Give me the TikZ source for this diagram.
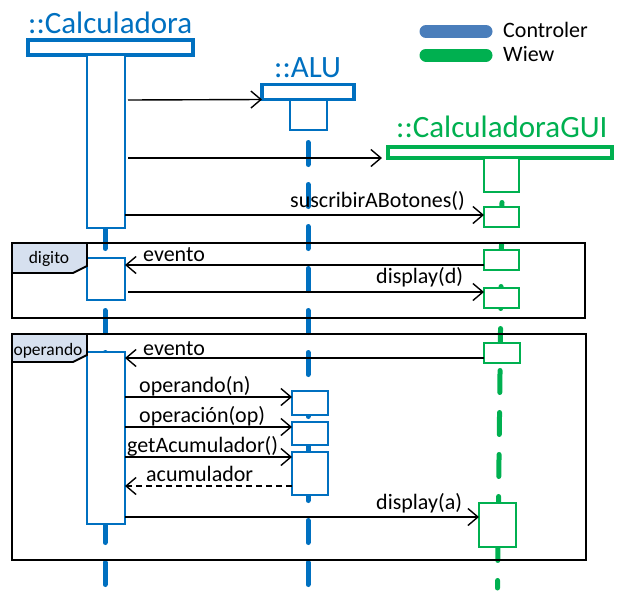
\documentclass[tikz,border=0pt]{standalone}
\usepackage{fontspec}
\setmainfont{Carlito}
\usetikzlibrary{arrows.meta}
\definecolor{ctlblue}{HTML}{0070C0}
\definecolor{viewgreen}{HTML}{00B050}
\definecolor{legblue}{HTML}{4A7EBB}
\definecolor{tagfill}{HTML}{D6E0EF}
\tikzset{
  headbox/.style={draw=#1, line width=3.2pt, fill=white, inner sep=0pt, outer sep=0pt},
  actbox/.style={draw=#1, line width=1.8pt, fill=white, inner sep=0pt, outer sep=0pt},
  lifeline/.style={line width=5pt, line cap=round, dash pattern=on 22pt off 20pt},
  msg/.style={line width=1.4pt, -{Straight Barb[length=10pt, width=17pt, line width=1.4pt]}},
  reply/.style={msg, dash pattern=on 6pt off 4pt},
  frame/.style={draw, line width=1.8pt},
  title/.style={anchor=base west, inner sep=0pt, font=\fontsize{31}{36}\selectfont},
  lbl/.style={anchor=base west, inner sep=0pt, font=\fontsize{22}{26}\selectfont},
  taglbl/.style={inner sep=0pt, font=\fontsize{17.5}{20}\selectfont}
}
\begin{document}
\begin{tikzpicture}[x=1pt, y=-1pt]
\useasboundingbox (0,0) rectangle (622,592);

% legend
\draw[legblue, line width=13pt, line cap=round] (426,31.5) -- (486,31.5);
\draw[viewgreen, line width=13pt, line cap=round] (426,55) -- (486,55);
\node[lbl] (legc) at (503,37) {Controler};
\node[lbl] (legv) at (503,61) {Wiew};

% lifelines
\draw[lifeline, ctlblue] (105,58.5) -- (105,585);
\draw[lifeline, ctlblue] (308,142.5) -- (308,585);
\draw[lifeline, viewgreen] (502,202.5) -- (497.5,588);

% object heads
\node[title, ctlblue] (tcalc) at (28,33) {::Calculadora};
\node[title, ctlblue] (talu) at (274,77) {::ALU};
\node[title, viewgreen] (tgui) at (396,137) {::CalculadoraGUI};
\node[headbox=ctlblue, minimum width=165, minimum height=15] (hcalc) at (110.5,47.5) {};
\node[headbox=ctlblue, minimum width=92, minimum height=15] (halu) at (308,92) {};
\node[headbox=viewgreen, minimum width=224, minimum height=11] (hgui) at (500,152.5) {};

% activations
\node[actbox=ctlblue, minimum width=38, minimum height=173] (calc1) at (106,141.5) {};
\node[actbox=ctlblue, minimum width=37, minimum height=30] (alu0) at (308.5,115) {};
\node[actbox=viewgreen, minimum width=35, minimum height=34] (gui0) at (501.5,175) {};
\node[actbox=viewgreen, minimum width=35, minimum height=20] (gui1) at (501.5,217) {};

% frame: digito
\draw[frame] (12,243) rectangle (585,318);
\node[actbox=ctlblue, minimum width=38, minimum height=42] (calc2) at (106,279) {};
\node[actbox=viewgreen, minimum width=35, minimum height=20] (gui2) at (501.5,260) {};
\node[actbox=viewgreen, minimum width=35, minimum height=20] (gui3) at (501.5,298) {};
\filldraw[fill=tagfill, line width=1.8pt] (12,243) -- (87,243) -- (87,266) -- (73,273) -- (12,273) -- cycle;
\node[taglbl] (tagd) at (49,259) {digito};

% frame: operando
\draw[frame] (12,334) rectangle (586,560);
\node[actbox=ctlblue, minimum width=38, minimum height=172] (calc3) at (106,438) {};
\node[actbox=viewgreen, minimum width=36, minimum height=20] (gui4) at (502,353) {};
\node[actbox=ctlblue, minimum width=36, minimum height=24] (alu1) at (310,403) {};
\node[actbox=ctlblue, minimum width=36, minimum height=23] (alu2) at (310,433.5) {};
\node[actbox=ctlblue, minimum width=36, minimum height=43] (alu3) at (310,473.5) {};
\node[actbox=viewgreen, minimum width=37, minimum height=44] (gui5) at (497.5,525) {};
\filldraw[fill=tagfill, line width=1.8pt] (12,334) -- (87,334) -- (87,355) -- (73,362) -- (12,362) -- cycle;
\node[taglbl] (tago) at (48,351) {operando};

% messages
\coordinate (m1s) at (128,100);
\coordinate (m2s) at (128,158);
\coordinate (m2e) at (382,158);
\draw[msg] (m1s) -- (halu.south west);
\draw[msg] (m2s) -- (m2e);
\draw[msg] (calc1.east |- 0,215) -- (gui1.west |- 0,215);
\node[lbl] (l3) at (290,207) {suscribirABotones()};

\draw[msg] (gui2.west |- 0,265) -- (calc2.east |- 0,265);
\node[lbl] (l4) at (143,261) {evento};
\draw[msg] (128,292) -- (gui3.west |- 0,292);
\node[lbl] (l5) at (376,283) {display(d)};

\draw[msg] (gui4.west |- 0,358) -- (calc3.east |- 0,358);
\node[lbl] (l6) at (143,355) {evento};
\draw[msg] (calc3.east |- 0,397) -- (alu1.west |- 0,397);
\node[lbl] (l7) at (139,392) {operando(n)};
\draw[msg] (calc3.east |- 0,427) -- (alu2.west |- 0,427);
\node[lbl] (l8) at (139,422) {operación(op)};
\draw[msg] (calc3.east |- 0,457) -- (alu3.west |- 0,457);
\node[lbl] (l9) at (127,452) {getAcumulador()};
\draw[reply] (alu3.west |- 0,486) -- (calc3.east |- 0,486);
\node[lbl] (l10) at (146,481) {acumulador};
\draw[msg] (calc3.east |- 0,517) -- (gui5.west |- 0,517);
\node[lbl] (l11) at (376,509) {display(a)};
\end{tikzpicture}
\end{document}
